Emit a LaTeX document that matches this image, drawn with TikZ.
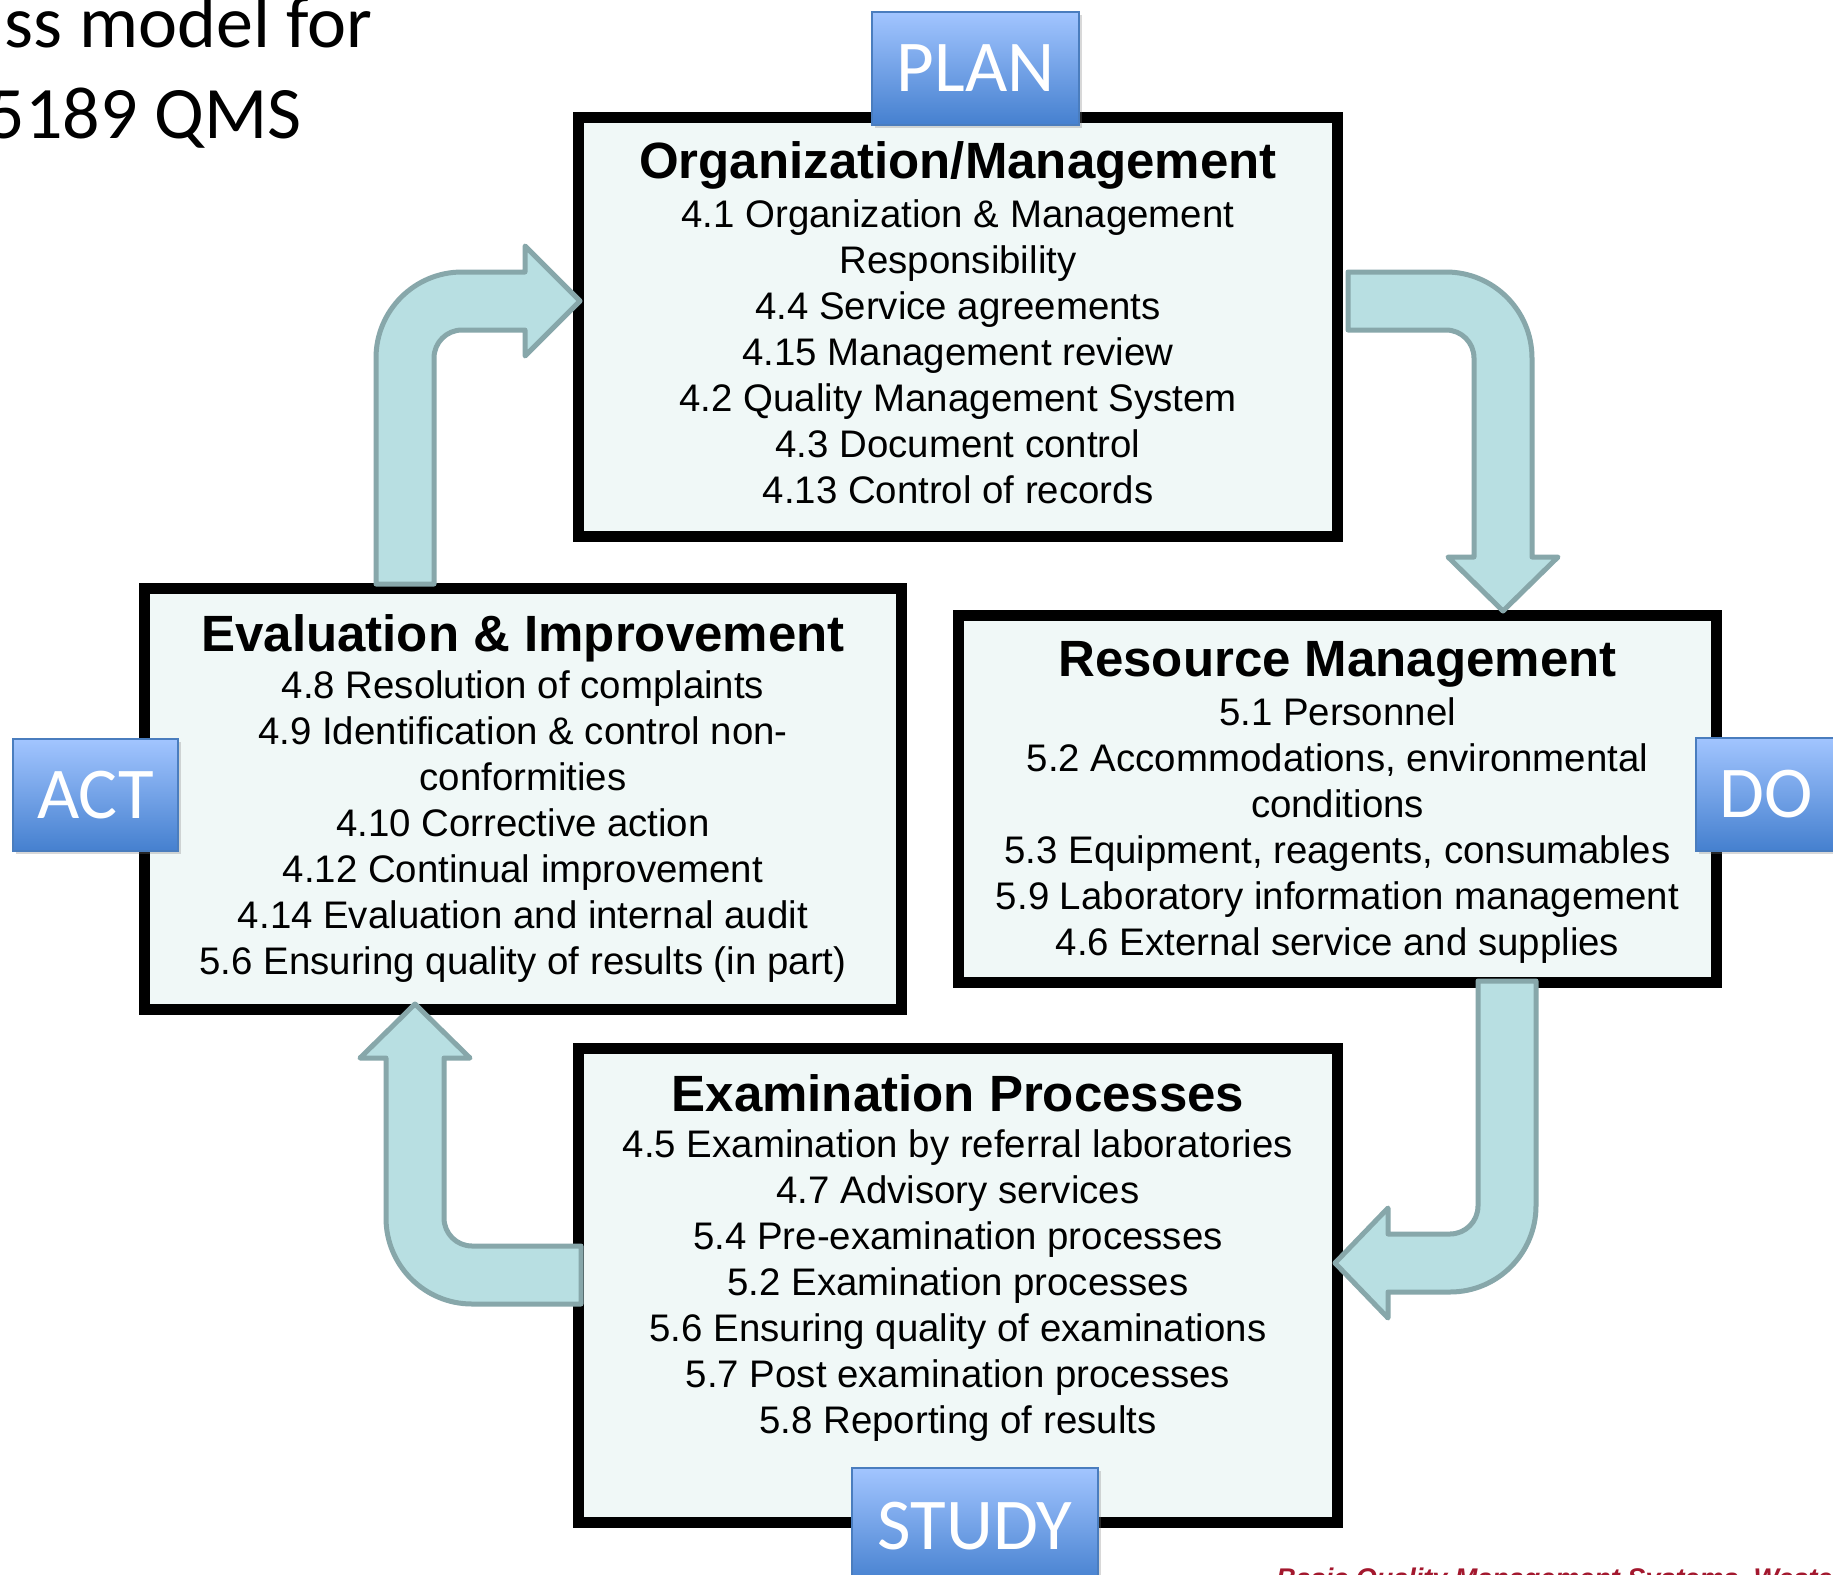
\documentclass[tikz,border=0pt]{standalone}
\usepackage{fontspec}
\setmainfont{Liberation Sans}
\newfontfamily\calfont{Carlito}
\usetikzlibrary{shadows}
\definecolor{boxfill}{HTML}{F0F8F7}
\definecolor{arrfill}{HTML}{B8DFE2}
\definecolor{arrline}{HTML}{87A7AA}
\definecolor{labtop}{HTML}{A2C5FF}
\definecolor{labbot}{HTML}{4580CF}
\definecolor{labline}{HTML}{4A7DBE}
\definecolor{srcred}{HTML}{A3182E}
\begin{document}
\begin{tikzpicture}[x=0.5pt,y=-0.5pt,
  qbox/.style={draw=black, line width=5.5pt, fill=boxfill, inner sep=0pt, outer sep=0pt},
  ttl/.style={anchor=base, inner sep=0pt, font=\fontsize{25.5}{30}\selectfont\bfseries},
  body/.style={anchor=base, inner sep=0pt, font=\fontsize{19.2}{23}\selectfont},
  blockarrow/.style={fill=arrfill, draw=arrline, line width=2.5pt, line join=round},
  pdca/.style={draw=labline, line width=1pt, top color=labtop, bottom color=labbot,
    text=white, font=\calfont\fontsize{36.5}{40}\selectfont, inner sep=0pt,
    drop shadow={opacity=0.3, shadow xshift=1.5pt, shadow yshift=-1.5pt}},
  heading/.style={anchor=base east, inner sep=0pt, font=\calfont\fontsize{37}{44}\selectfont}
]
\useasboundingbox[fill=white] (0,0) rectangle (1833,1575);

% ---- main boxes ----
\node[qbox, minimum width=379.5pt, minimum height=209.5pt] (org) at (958,327) {};
\node[qbox, minimum width=378.5pt, minimum height=210.5pt] (eval) at (523,799) {};
\node[qbox, minimum width=379pt, minimum height=183.5pt] (res) at (1337.5,799) {};
\node[qbox, minimum width=379.5pt, minimum height=237pt] (exam) at (958,1285.5) {};

% ---- box texts ----
\node[ttl] (orgT) at (958,178) {Organization/Management};
\node[body] (orgB) at (958,227) {\begin{tabular}[t]{@{}c@{}}
4.1 Organization \& Management\\
Responsibility\\
4.4 Service agreements\\
4.15 Management review\\
4.2 Quality Management System\\
4.3 Document control\\
4.13 Control of records
\end{tabular}};

\node[ttl] (evalT) at (523,651) {Evaluation \& Improvement};
\node[body] (evalB) at (523,698) {\begin{tabular}[t]{@{}c@{}}
4.8 Resolution of complaints\\
4.9 Identification \& control non-\\
conformities\\
4.10 Corrective action\\
4.12 Continual improvement\\
4.14 Evaluation and internal audit\\
5.6 Ensuring quality of results (in part)
\end{tabular}};

\node[ttl] (resT) at (1337.5,676) {Resource Management};
\node[body] (resB) at (1337.5,725) {\begin{tabular}[t]{@{}c@{}}
5.1 Personnel\\
5.2 Accommodations, environmental\\
conditions\\
5.3 Equipment, reagents, consumables\\
5.9 Laboratory information management\\
4.6 External service and supplies
\end{tabular}};

\node[ttl] (examT) at (958,1111) {Examination Processes};
\node[body] (examB) at (958,1157) {\begin{tabular}[t]{@{}c@{}}
4.5 Examination by referral laboratories\\
4.7 Advisory services\\
5.4 Pre-examination processes\\
5.2 Examination processes\\
5.6 Ensuring quality of examinations\\
5.7 Post examination processes\\
5.8 Reporting of results
\end{tabular}};

% ---- block arrows ----
% ACT -> PLAN (eval -> org)
\path[blockarrow] (376,584) -- (376,358) arc[start angle=180,end angle=270,radius=86]
  -- (525,272) -- (525,246) -- (580,301) -- (525,356) -- (525,330)
  -- (462,330) arc[start angle=270,end angle=180,radius=28] -- (434,584) -- cycle;
% PLAN -> DO (org -> res)
\path[blockarrow] (1348,272) -- (1446,272) arc[start angle=270,end angle=360,radius=86]
  -- (1532,557) -- (1558,557) -- (1503,611) -- (1448,557) -- (1474,557)
  -- (1474,358) arc[start angle=0,end angle=-90,radius=28] -- (1348,330) -- cycle;
% DO -> STUDY (res -> exam)
\path[blockarrow] (1478,981) -- (1536,981) -- (1536,1206) arc[start angle=0,end angle=90,radius=86]
  -- (1388,1292) -- (1388,1318) -- (1335,1263) -- (1388,1208) -- (1388,1234)
  -- (1450,1234) arc[start angle=90,end angle=0,radius=28] -- cycle;
% STUDY -> ACT (exam -> eval)
\path[blockarrow] (581,1304) -- (472,1304) arc[start angle=90,end angle=180,radius=86]
  -- (386,1058) -- (360,1058) -- (415,1004) -- (470,1058) -- (444,1058)
  -- (444,1218) arc[start angle=180,end angle=90,radius=28] -- (581,1246) -- cycle;

% ---- PDCA labels ----
\node[pdca, minimum width=103.5pt, minimum height=56.5pt] (plan) at (975.5,68.5) {PLAN};
\node[pdca, minimum width=123pt, minimum height=58pt] (study) at (975,1526) {STUDY};
\node[pdca, minimum width=82.5pt, minimum height=56pt] (act) at (95.5,795) {ACT};
\node[pdca, minimum width=70pt, minimum height=56.5pt] (do) at (1766,794) {DO};

% ---- slide heading (cut off) ----
\node[heading] (head1) at (373,47) {ss model for};
\node[heading] (head2) at (302,138) {5189 QMS};

% ---- source line (cut off) ----
\node[anchor=base west, inner sep=0pt, text=srcred,
  font=\fontsize{13.5}{16}\selectfont\bfseries\itshape] (src) at (1276,1587)
  {Basic Quality Management Systems, Western Pacific};
\end{tikzpicture}
\end{document}
